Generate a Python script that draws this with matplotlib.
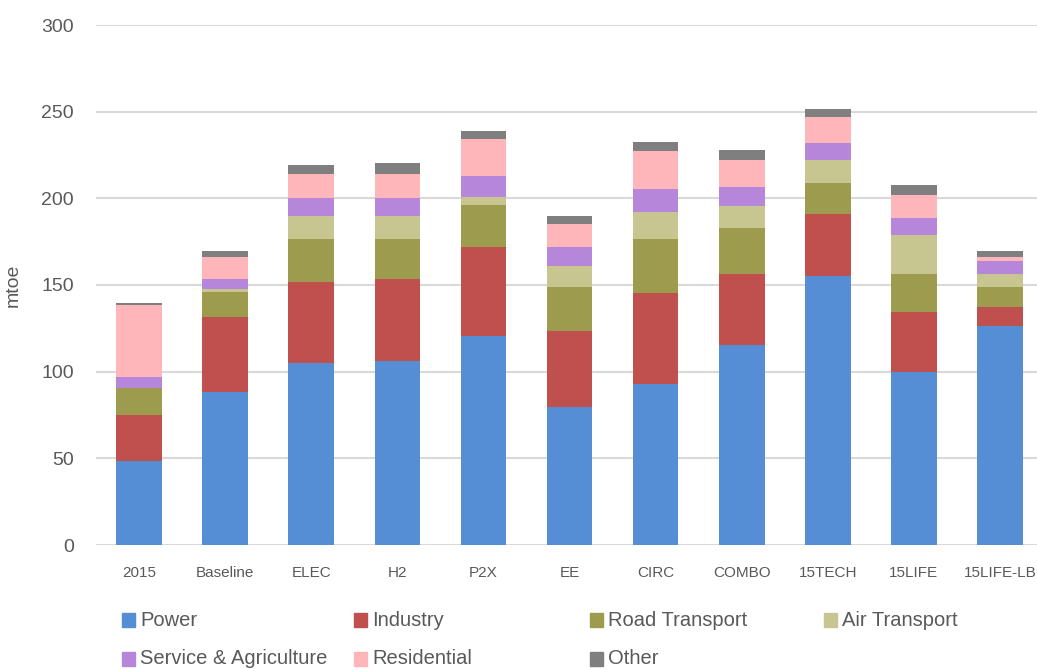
import matplotlib

matplotlib.use("Agg")
import matplotlib.pyplot as plt
import numpy as np
from matplotlib.patches import Rectangle

# scenarios and sector consumption (mtoe)
scenarios = ["2015", "Baseline", "ELEC", "H2", "P2X", "EE", "CIRC", "COMBO", "15TECH", "15LIFE", "15LIFE-LB"]
power = [48.2, 88.5, 105.0, 106.0, 120.6, 79.7, 92.9, 115.1, 155.2, 99.9, 126.2]
industry = [27.0, 43.1, 46.5, 47.2, 51.5, 44.0, 52.5, 41.4, 35.5, 34.3, 11.3]
road = [15.6, 14.6, 25.1, 23.4, 24.3, 25.2, 31.2, 26.3, 18.1, 22.3, 11.4]
air = [0.0, 1.4, 13.0, 13.0, 4.5, 11.9, 15.5, 12.6, 13.1, 22.4, 7.6]
service = [6.2, 5.6, 10.5, 10.5, 12.0, 11.3, 13.2, 11.1, 10.3, 9.9, 7.6]
residential = [41.4, 13.0, 14.0, 14.0, 21.6, 13.2, 22.2, 15.4, 14.6, 13.2, 2.1]
other = [1.4, 3.7, 5.0, 6.0, 4.5, 4.5, 4.9, 5.8, 4.6, 5.7, 3.7]

sectors = ["Power", "Industry", "Road Transport", "Air Transport",
           "Service & Agriculture", "Residential", "Other"]
series = [power, industry, road, air, service, residential, other]
colors = ["#558ED5", "#C0504D", "#9D9B4E", "#C8C690", "#B686DA", "#FFB6BA", "#7F7F7F"]

FONT = "Liberation Sans"
TXT = "#595959"

W, H = 1037, 669
fig = plt.figure(figsize=(W / 100, H / 100), dpi=100)
ax = fig.add_axes([96 / W, 1 - 545 / H, (W - 96) / W, (545 - 25) / H])

x = np.arange(len(scenarios))
bottom = np.zeros(len(scenarios))
for name, vals, col in zip(sectors, series, colors):
    vals = np.asarray(vals)
    ax.bar(x, vals, width=0.53, bottom=bottom, color=col, linewidth=0, zorder=3)
    bottom += vals

ax.set_xlim(-0.5, 10.43)
ax.set_ylim(0, 300)
ax.set_yticks(range(0, 301, 50))
ax.set_xticks(x)
ax.set_xticklabels(scenarios)
ax.tick_params(axis="both", length=0, colors=TXT)
ax.tick_params(axis="x", pad=15, labelsize=11)
ax.tick_params(axis="y", pad=16, labelsize=14)
ax.grid(axis="y", color="#D9D9D9", linewidth=1.5, zorder=0)
for s in ax.spines.values():
    s.set_visible(False)
ax.set_ylabel("mtoe", color=TXT, fontsize=14, family=FONT, labelpad=14)

# legend laid out as in the reference: 4 columns, fixed spacing
col_x = [122, 354, 590, 824]
row_y = [620, 659]
for i, (name, col) in enumerate(zip(sectors, colors)):
    cx = col_x[i % 4]
    cy = row_y[i // 4]
    fig.patches.append(Rectangle((cx / W, 1 - (cy + 7) / H), 13 / W, 14 / H,
                                 transform=fig.transFigure, color=col))
    fig.text((cx + 18) / W, 1 - cy / H, name, color=TXT, fontsize=14.5, family=FONT,
             va="center", ha="left")

for t in ax.get_xticklabels() + ax.get_yticklabels():
    t.set_fontfamily(FONT)

fig.savefig("out.png", dpi=100)
